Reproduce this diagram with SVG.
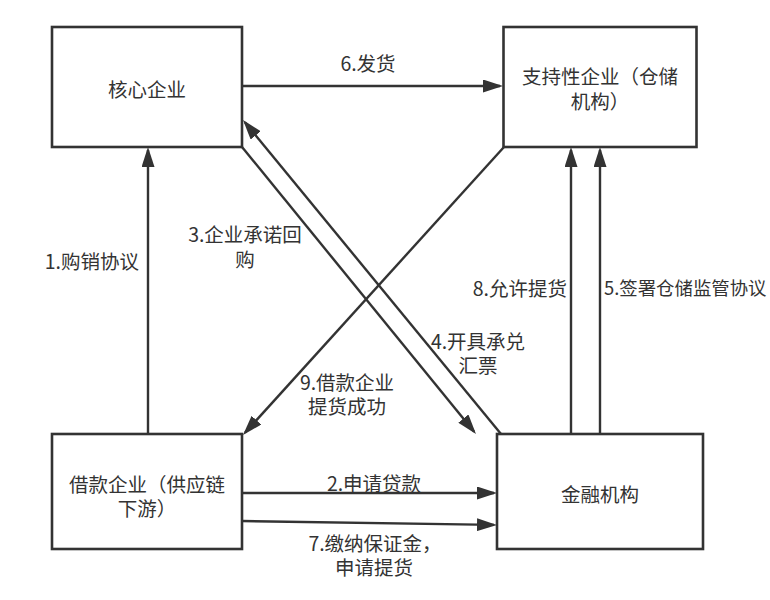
<svg xmlns="http://www.w3.org/2000/svg" width="770" height="600" viewBox="0 0 770 600">
<style>
  .box { fill: #ffffff; stroke: #333333; stroke-width: 2.6; }
  .edge { fill: none; stroke: #333333; stroke-width: 2.4; marker-end: url(#arrow); }
  text { font-family: "Noto Sans CJK SC", "Liberation Sans", sans-serif; font-size: 19.5px; fill: #333333; dominant-baseline: central; }
  .c { text-anchor: middle; }
</style>
<defs>
  <marker id="arrow" markerUnits="userSpaceOnUse" markerWidth="20" markerHeight="13" refX="17" refY="6.5" orient="auto">
    <path d="M0,0 L20,6.5 L0,13 Z" fill="#333333"/>
  </marker>
</defs>
<rect width="770" height="600" fill="#ffffff"/>
<g id="connectors">
  <path class="edge" d="M242,86 L500,86"/>
  <path class="edge" d="M148,434 L148,150"/>
  <path class="edge" d="M501,434 L244.9,122.3"/>
  <path class="edge" d="M242,147 L474.1,431.7"/>
  <path class="edge" d="M504,147 L245,432.8"/>
  <path class="edge" d="M571,434 L571,150"/>
  <path class="edge" d="M600,434 L600,150"/>
  <path class="edge" d="M242,493 L494,493"/>
  <path class="edge" d="M242,521 L494,524.9"/>
</g>
<g id="labels">
  <text class="c" x="368" y="62">6.发货</text>
  <text x="139" y="260" text-anchor="end">1.购销协议</text>
  <text class="c" x="245" y="233">3.企业承诺回<tspan x="245" dy="25">购</tspan></text>
  <text class="c" x="478" y="340">4.开具承兑<tspan x="478" dy="24">汇票</tspan></text>
  <text class="c" x="347" y="381">9.借款企业<tspan x="347" dy="24">提货成功</tspan></text>
  <text x="567" y="287" text-anchor="end">8.允许提货</text>
  <text x="604" y="287" style="font-size:18.4px">5.签署仓储监管协议</text>
  <text class="c" x="374" y="482">2.申请贷款</text>
  <text class="c" x="375" y="542">7.缴纳保证金，<tspan x="374" dy="24">申请提货</tspan></text>
</g>
<g id="core">
  <rect class="box" x="52" y="27" width="190" height="120"/>
  <text class="c" x="147" y="88">核心企业</text>
</g>
<g id="support">
  <rect class="box" x="503.5" y="27" width="193" height="120"/>
  <text class="c" x="600" y="75">支持性企业（仓储<tspan x="600" dy="25">机构）</tspan></text>
</g>
<g id="borrower">
  <rect class="box" x="52" y="434" width="190" height="115"/>
  <text class="c" x="147" y="483">借款企业（供应链<tspan x="147" dy="24">下游）</tspan></text>
</g>
<g id="finance">
  <rect class="box" x="497" y="434" width="206" height="115"/>
  <text class="c" x="600" y="493">金融机构</text>
</g>
</svg>
